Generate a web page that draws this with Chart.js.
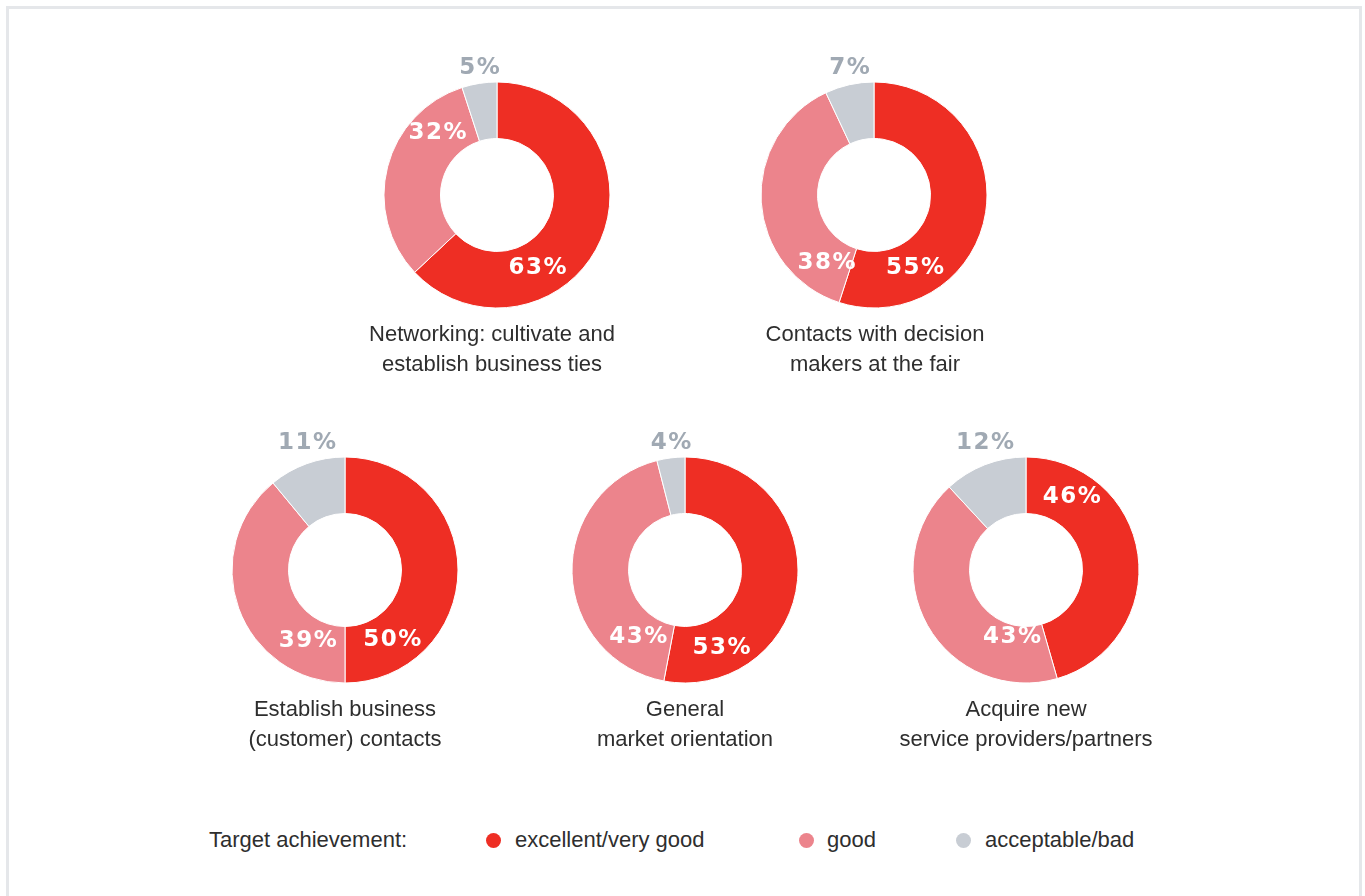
<!DOCTYPE html>
<html>
<head>
<meta charset="utf-8">
<script src="https://cdn.jsdelivr.net/npm/chart.js@4/dist/chart.umd.min.js"></script>
<style>
  html,body{margin:0;padding:0;background:#fff;width:1365px;height:896px;overflow:hidden;font-family:"Liberation Sans",Arial,sans-serif;}
  #frame{position:absolute;left:6px;top:6px;width:1350px;height:1000px;border:3px solid #e5e7ea;}
  .cv{position:absolute;width:300px;height:300px;}
  .title{position:absolute;width:400px;text-align:center;font-size:22px;line-height:29.5px;color:#2e2e2e;}
  .legend{position:absolute;top:825px;font-size:22px;color:#2e2e2e;line-height:30px;white-space:nowrap;}
  .dot{position:absolute;width:15px;height:15px;border-radius:50%;top:833px;}
</style>
</head>
<body>
<div id="frame"></div>

<script>
// ---- data ----
const categories = ["excellent/very good", "good", "acceptable/bad"];
const chartTitles = [
  ["Networking: cultivate and", "establish business ties"],
  ["Contacts with decision", "makers at the fair"],
  ["Establish business", "(customer) contacts"],
  ["General", "market orientation"],
  ["Acquire new", "service providers/partners"]
];
const networkingValues = [63, 32, 5];
const decisionMakersValues = [55, 38, 7];
const businessContactsValues = [50, 39, 11];
const marketOrientationValues = [53, 43, 4];
const newPartnersValues = [46, 43, 12];
const seriesValues = [networkingValues, decisionMakersValues, businessContactsValues, marketOrientationValues, newPartnersValues];

// ---- layout / style (not data) ----
const centers = [[497,195],[874,195],[345,570],[685,570],[1026,570]];
const titleShift = [-5, 1, 0, 0, 0];
// label placement for the two inner labels: [angle clockwise from top (deg), distance from centre (px)]
const labelPlacement = [
  [[151,83],[316,86]],
  [[151,84],[215,83]],
  [[146,84],[208,80]],
  [[155,86],[215,82]],
  [[32,86],[192,69]]
];
const colors = ["#ee2e24", "#ec848c", "#c8cdd4"];
const grayLabelColor = "#a0a9b3";
const CV = 300;

const labelPlugin = {
  id: 'pctLabels',
  afterDatasetsDraw(chart) {
    const ctx = chart.ctx;
    const meta = chart.getDatasetMeta(0);
    const vals = chart.data.datasets[0].data;
    const place = chart.options.plugins.pctLabels.place;
    ctx.save();
    ctx.font = "bold 23px 'DejaVu Sans', sans-serif";
    ctx.letterSpacing = "1.5px";
    ctx.textAlign = "center";
    ctx.textBaseline = "middle";
    meta.data.forEach((arc, i) => {
      const {x, y, outerRadius, startAngle, endAngle} = arc.getProps(['x','y','outerRadius','startAngle','endAngle'], true);
      const txt = vals[i] + "%";
      let lx, ly;
      if (i === 2) {
        const mid = (startAngle + endAngle) / 2;
        lx = x + outerRadius * Math.cos(mid);
        ly = y - outerRadius - 14;
        ctx.fillStyle = grayLabelColor;
      } else {
        const [deg, r] = place[i];
        const a = deg * Math.PI / 180;
        lx = x + r * Math.sin(a);
        ly = y - r * Math.cos(a);
        ctx.fillStyle = "#ffffff";
      }
      ctx.fillText(txt, lx + 1, ly);
    });
    ctx.restore();
  }
};

seriesValues.forEach((vals, k) => {
  const [cx, cy] = centers[k];
  const c = document.createElement('canvas');
  c.className = 'cv';
  c.style.left = (cx - CV/2) + 'px';
  c.style.top = (cy - CV/2) + 'px';
  c.width = CV; c.height = CV;
  document.body.appendChild(c);

  new Chart(c, {
    type: 'doughnut',
    data: {
      labels: categories,
      datasets: [{
        data: vals,
        backgroundColor: colors,
        borderColor: "#ffffff",
        borderWidth: 1
      }]
    },
    options: {
      responsive: false,
      animation: false,
      radius: 113,
      cutout: '50%',
      layout: {padding: 0},
      plugins: {
        legend: {display: false},
        tooltip: {enabled: false},
        pctLabels: {place: labelPlacement[k]}
      }
    },
    plugins: [labelPlugin]
  });

  const t = document.createElement('div');
  t.className = 'title';
  t.style.left = (cx - 200 + titleShift[k]) + 'px';
  t.style.top = (cy + 124) + 'px';
  t.innerHTML = chartTitles[k].join('<br>');
  document.body.appendChild(t);
});

// legend
const legendX = [[493, 515], [806, 827], [963, 985]];
const lt = document.createElement('div');
lt.className = 'legend';
lt.style.left = '209px';
lt.textContent = 'Target achievement:';
document.body.appendChild(lt);
categories.forEach((cat, i) => {
  const d = document.createElement('div');
  d.className = 'dot';
  d.style.left = (legendX[i][0] - 7) + 'px';
  d.style.background = colors[i];
  document.body.appendChild(d);
  const s = document.createElement('div');
  s.className = 'legend';
  s.style.left = legendX[i][1] + 'px';
  s.textContent = cat;
  document.body.appendChild(s);
});
</script>
</body>
</html>
